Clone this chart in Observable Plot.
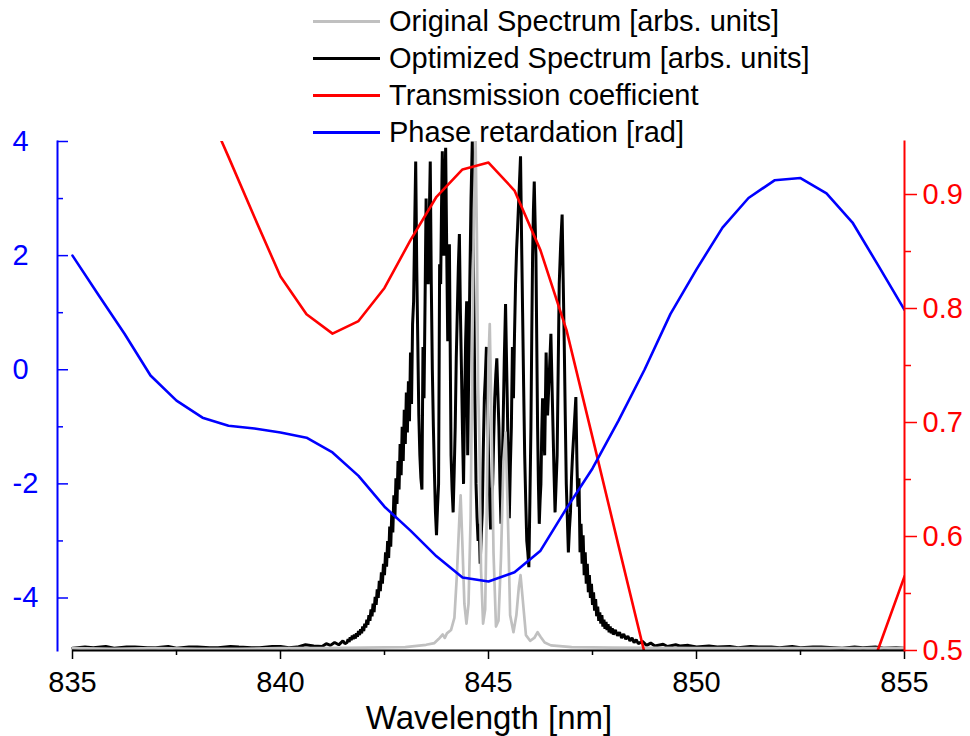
<!DOCTYPE html>
<html>
<head>
<meta charset="utf-8">
<script src="https://cdn.jsdelivr.net/npm/d3@7"></script>
<script src="https://cdn.jsdelivr.net/npm/@observablehq/plot@0.6"></script>
<style>
  html, body { margin: 0; padding: 0; background: #fff; }
  #wrap { position: relative; width: 970px; height: 736px; font-family: "Liberation Sans", Arial, sans-serif; }
  #legend { position: absolute; left: 313px; top: 3px; }
  .row { display: flex; align-items: center; height: 37px; font-size: 29px; color: #000; white-space: nowrap; }
  .sw { width: 67px; height: 3px; margin-right: 9px; }
</style>
</head>
<body>
<div id="wrap"><div id="legend"></div></div>
<script>
// ---------- data ----------
const seriesNames = ["Original Spectrum [arbs. units]", "Optimized Spectrum [arbs. units]", "Transmission coefficient", "Phase retardation [rad]"];
const seriesColors = ["#c0c0c0", "#000000", "#ff0000", "#0000ff"];

const xTicksMajor = [835, 840, 845, 850, 855];
const xTicksMinor = [837.5, 842.5, 847.5, 852.5];
const leftTicksMajor = [-4, -2, 0, 2, 4];
const leftTicksMinor = [-3, -1, 1, 3];
const rightTicksMajor = [0.5, 0.6, 0.7, 0.8, 0.9];
const rightTicksMinor = [0.55, 0.65, 0.75, 0.85];

// wavelength grid of the transmission / phase curves (nm)
const gridWavelength = [835, 835.625, 836.25, 836.875, 837.5, 838.125, 838.75, 839.375, 840, 840.625,
  841.25, 841.875, 842.5, 843.125, 843.75, 844.375, 845, 845.625, 846.25, 846.875,
  847.5, 848.125, 848.75, 849.375, 850, 850.625, 851.25, 851.875, 852.5, 853.125,
  853.75, 854.375, 855];
const phaseRetardation = [2.0, 1.31, 0.63, -0.1, -0.54, -0.84, -0.98, -1.03, -1.10, -1.19,
  -1.45, -1.86, -2.40, -2.82, -3.27, -3.64, -3.71, -3.55, -3.17, -2.43,
  -1.73, -0.89, 0.0, 0.98, 1.76, 2.49, 3.01, 3.32, 3.36, 3.09,
  2.58, 1.82, 1.05];
const transmission = [1.20, 1.14, 1.09, 1.05, 1.02, 0.985, 0.933, 0.880, 0.828, 0.795,
  0.778, 0.789, 0.818, 0.860, 0.898, 0.922, 0.928, 0.9035, 0.851, 0.781,
  0.687, 0.592, 0.498, 0.40, 0.33, 0.29, 0.27, 0.28, 0.31, 0.36,
  0.44, 0.502, 0.565];

// spectra: [wavelength nm, value in left-axis units]
const originalSpectrum = [
  [835, -4.88], [836, -4.89], [837, -4.88], [838, -4.89], [839, -4.89], [840, -4.88], [841, -4.88],
  [842, -4.87], [843, -4.86], [843.5, -4.82], [843.7, -4.79], [843.8, -4.72], [843.9, -4.64],
  [843.95, -4.7], [844.0, -4.62], [844.1, -4.56], [844.18, -4.35], [844.24, -3.6], [844.3, -2.6],
  [844.33, -2.2], [844.37, -3.0], [844.42, -4.1], [844.47, -4.45], [844.52, -4.1], [844.57, -2.6],
  [844.61, 0.2], [844.65, 2.8], [844.69, 4.0], [844.72, 2.4], [844.75, -0.3], [844.78, -1.2],
  [844.82, -3.5], [844.87, -4.45], [844.92, -4.2], [844.96, -2.4], [845.0, 0.2], [845.03, 0.8],
  [845.07, -0.8], [845.12, -3.2], [845.18, -4.5], [845.24, -4.4], [845.3, -3.3], [845.36, -1.6],
  [845.41, -1.1], [845.46, -2.4], [845.52, -4.3], [845.6, -4.6], [845.67, -4.3], [845.73, -3.8],
  [845.77, -3.6], [845.82, -4.0], [845.9, -4.65], [846.0, -4.75], [846.1, -4.7], [846.18, -4.6],
  [846.25, -4.68], [846.35, -4.78], [846.5, -4.83], [847, -4.86], [848, -4.87], [850, -4.88],
  [852, -4.88], [855, -4.88]
];
const optimizedSpectrum = [
  [835.0, -4.88], [835.3, -4.86], [835.5, -4.87], [835.8, -4.85], [836.0, -4.88], [836.3, -4.86],
  [836.5, -4.86], [836.8, -4.87], [837.0, -4.87], [837.3, -4.85], [837.5, -4.88], [837.8, -4.86],
  [838.0, -4.86], [838.3, -4.87], [838.5, -4.87], [838.8, -4.85], [839.0, -4.86], [839.3, -4.87],
  [839.5, -4.87], [839.8, -4.85], [840.0, -4.85], [840.2, -4.87], [840.4, -4.86], [840.6, -4.82],
  [840.8, -4.84], [841.0, -4.85], [841.1, -4.8], [841.2, -4.83], [841.3, -4.78], [841.4, -4.82],
  [841.5, -4.75], [841.55, -4.8],
  [841.600, -4.78], [841.625, -4.72], [841.650, -4.77], [841.675, -4.69], [841.700, -4.74], [841.725, -4.66],
  [841.750, -4.72], [841.775, -4.64], [841.800, -4.71], [841.825, -4.62], [841.850, -4.68], [841.875, -4.58],
  [841.900, -4.65], [841.925, -4.55], [841.950, -4.62], [841.975, -4.5], [842.000, -4.58], [842.025, -4.45],
  [842.050, -4.52], [842.075, -4.38], [842.100, -4.47], [842.125, -4.3], [842.150, -4.4], [842.175, -4.2],
  [842.200, -4.32], [842.225, -4.1], [842.250, -4.25], [842.275, -3.98], [842.300, -4.12], [842.325, -3.85],
  [842.350, -4.0], [842.375, -3.7], [842.400, -3.88], [842.425, -3.55], [842.450, -3.75], [842.475, -3.4],
  [842.500, -3.6], [842.525, -3.2], [842.550, -3.45], [842.575, -3.0], [842.600, -3.3], [842.625, -2.75],
  [842.650, -3.1], [842.675, -2.5], [842.700, -2.85], [842.725, -2.2], [842.750, -2.6], [842.775, -1.9],
  [842.800, -2.35], [842.825, -1.6], [842.850, -2.1], [842.875, -1.3], [842.900, -1.85], [842.925, -1.0],
  [842.950, -1.6], [842.975, -0.7], [843.000, -1.3], [843.025, -0.4], [843.050, -1.1], [843.075, -0.2],
  [843.100, -0.9], [843.125, 0.3], [843.150, -0.6], [843.175, 0.8], [843.200, 1.2], [843.225, 2.5],
  [843.25, 3.65], [843.275, 1.8], [843.3, 0.5], [843.325, -0.8], [843.35, -1.5], [843.375, -1.9],
  [843.4, -2.1], [843.425, 0.4], [843.45, -0.5], [843.475, 1.2], [843.5, 3.0], [843.525, 2.0],
  [843.55, 1.5], [843.575, 2.6], [843.6, 3.65], [843.625, 1.5], [843.65, 0.0], [843.675, -1.0],
  [843.7, -1.8], [843.725, -2.5], [843.75, -2.9], [843.775, -2.4], [843.8, -2.0], [843.825, 1.85],
  [843.85, 1.5], [843.87, 2.8], [843.89, 3.83], [843.91, 2.6], [843.93, 2.0], [843.95, 3.1],
  [843.97, 3.89], [844.0, 1.8], [844.02, 0.5], [844.06, 2.2], [844.1, -1.5], [844.125, -2.1],
  [844.15, -2.5], [844.175, -1.8], [844.2, -1.0], [844.225, 0.2], [844.25, 1.0], [844.275, 1.8],
  [844.3, 2.38], [844.325, 1.0], [844.35, 0.0], [844.375, -1.1], [844.4, -2.0], [844.425, -0.6],
  [844.45, 0.5], [844.475, 1.2], [844.5, -1.5], [844.525, 0.0], [844.55, 1.5], [844.58, 3.0],
  [844.61, 4.0], [844.63, 2.4], [844.65, 1.0], [844.675, -0.6], [844.7, -2.0], [844.725, -2.6],
  [844.75, -3.0], [844.775, -2.7], [844.8, -3.4], [844.825, -2.9], [844.85, -2.5], [844.875, -1.4],
  [844.9, -0.5], [844.925, -0.1], [844.95, 0.4], [844.975, -0.6], [845.0, -1.5], [845.025, -2.2],
  [845.05, -2.8], [845.075, -2.3], [845.1, -2.0], [845.125, -1.2], [845.15, -0.5], [845.175, -0.1],
  [845.2, 0.2], [845.225, -0.4], [845.25, -1.0], [845.275, -2.0], [845.3, -2.7], [845.325, -1.9],
  [845.35, -1.0], [845.38, 0.2], [845.41, 1.15], [845.43, 0.3], [845.45, -0.5], [845.475, -1.6],
  [845.5, -2.6], [845.525, -1.7], [845.55, -1.0], [845.575, 0.4], [845.6, -0.5], [845.625, 0.6],
  [845.65, 1.5], [845.675, 2.1], [845.7, 2.5], [845.74, 3.2], [845.77, 3.74], [845.795, 2.3],
  [845.82, 1.0], [845.845, -0.3], [845.87, -1.5], [845.895, -2.3], [845.92, -3.0], [845.945, -3.2],
  [845.97, -3.46], [845.995, -2.3], [846.02, -1.0], [846.04, 0.6], [846.06, 2.0], [846.08, 2.8],
  [846.1, 3.3], [846.12, 2.6], [846.14, 2.0], [846.16, 0.5], [846.18, -1.0], [846.2, -2.0],
  [846.22, -2.7], [846.24, -2.3], [846.26, -2.0], [846.28, -1.1], [846.3, -0.5], [846.325, -1.0],
  [846.35, -1.5], [846.385, 0.3], [846.42, -0.8], [846.46, -0.1], [846.5, 0.63], [846.525, -0.2],
  [846.55, -1.0], [846.575, -1.8], [846.6, -2.5], [846.625, -2.0], [846.65, -1.5], [846.675, 0.0],
  [846.7, 1.5], [846.735, 2.2], [846.77, 2.72], [846.795, 1.6], [846.82, 0.5], [846.845, -0.8],
  [846.87, -2.0], [846.895, -2.6], [846.92, -3.2], [846.945, -2.8], [846.97, -2.5], [846.995, -1.9],
  [847.02, -1.5], [847.06, -1.0], [847.100, -0.48], [847.125, -1.6], [847.150, -2.4], [847.175, -1.9],
  [847.200, -3.2], [847.225, -2.7], [847.250, -3.4], [847.275, -2.9], [847.300, -3.6], [847.325, -3.2],
  [847.350, -3.75], [847.375, -3.4], [847.400, -3.9], [847.425, -3.6], [847.450, -4.0], [847.475, -3.75],
  [847.500, -4.12], [847.525, -3.9], [847.550, -4.22], [847.575, -4.02], [847.600, -4.32], [847.625, -4.15],
  [847.650, -4.4], [847.675, -4.25], [847.700, -4.45], [847.725, -4.3], [847.750, -4.5], [847.775, -4.38],
  [847.800, -4.54], [847.825, -4.42], [847.850, -4.56], [847.875, -4.46], [847.900, -4.6], [847.925, -4.5],
  [847.950, -4.62], [847.975, -4.53], [848.000, -4.64], [848.050, -4.56], [848.100, -4.66], [848.150, -4.6],
  [848.200, -4.7], [848.250, -4.63], [848.300, -4.72], [848.350, -4.67], [848.400, -4.75], [848.450, -4.7],
  [848.500, -4.78], [848.550, -4.73], [848.600, -4.8], [848.700, -4.76], [848.800, -4.83], [848.900, -4.79],
  [849.0, -4.84], [849.2, -4.81], [849.3, -4.85], [849.5, -4.82], [849.6, -4.84], [849.8, -4.83],
  [850.0, -4.86], [850.3, -4.84], [850.5, -4.86], [850.8, -4.85], [851.0, -4.87], [851.3, -4.85],
  [851.5, -4.86], [851.8, -4.86], [852.0, -4.87], [852.3, -4.85], [852.5, -4.87], [852.8, -4.86],
  [853.0, -4.86], [853.3, -4.87], [853.5, -4.88], [853.8, -4.86], [854.0, -4.87], [854.3, -4.86],
  [854.5, -4.88], [854.8, -4.87], [855.0, -4.88]
];

const xDomain = [835, 855];
const leftDomain = [-4.92, 4];
const rightDomain = [0.5, 0.9465];

// ---------- chart ----------
const FONT = '"Liberation Sans", Arial, sans-serif';
const toLeft = d3.scaleLinear(rightDomain, leftDomain);
const blue = seriesColors[3], red = seriesColors[2];

const chart = Plot.plot({
  width: 970,
  height: 736,
  marginLeft: 57,
  marginRight: 66,
  marginTop: 141,
  marginBottom: 86,
  style: { fontFamily: FONT, fontSize: "29px", background: "white", overflow: "visible" },
  x: { domain: xDomain, insetLeft: 15, axis: null },
  y: { domain: leftDomain, axis: null },
  marks: [
    Plot.line(optimizedSpectrum, { x: d => d[0], y: d => d[1], stroke: seriesColors[1], strokeWidth: 3, strokeLinejoin: "miter", clip: true }),
    Plot.line(originalSpectrum, { x: d => d[0], y: d => d[1], stroke: seriesColors[0], strokeWidth: 2.7, clip: true }),
    Plot.line(transmission, { x: gridWavelength, y: transmission.map(toLeft), stroke: red, strokeWidth: 2.6, clip: true }),
    Plot.line(phaseRetardation, { x: gridWavelength, y: phaseRetardation, stroke: blue, strokeWidth: 2.6, clip: true }),
    // bottom axis
    Plot.ruleY([leftDomain[0]], { x1: xDomain[0], x2: xDomain[1], stroke: "black", strokeWidth: 2 }),
    Plot.axisX({ anchor: "bottom", ticks: xTicksMajor, tickSize: 9, tickPadding: 12, tickFormat: d3.format("d"), label: null, stroke: "black", fill: "black", strokeWidth: 1.5, fontSize: 29 }),
    Plot.axisX({ anchor: "bottom", ticks: xTicksMinor, tickSize: 5, tickFormat: () => "", label: null, stroke: "black", strokeWidth: 1.5 }),
    Plot.text(["Wavelength [nm]"], { frameAnchor: "bottom", dx: 8, dy: 78, fontSize: 33, fill: "black" }),
    // left axis (blue)
    Plot.frame({ anchor: "left", stroke: blue, strokeWidth: 2 }),
    Plot.axisY({ anchor: "left", ticks: leftTicksMajor, tickSize: -11, tickPadding: 56, textAnchor: "start", tickFormat: d => String(d), label: null, stroke: blue, fill: blue, strokeWidth: 1.5, fontSize: 29 }),
    Plot.axisY({ anchor: "left", ticks: leftTicksMinor, tickSize: -6, tickFormat: () => "", label: null, stroke: blue, strokeWidth: 1.5 }),
    // right axis (red)
    Plot.frame({ anchor: "right", stroke: red, strokeWidth: 2 }),
    Plot.axisY({ anchor: "right", ticks: rightTicksMajor.map(toLeft), tickSize: 12, tickPadding: 6, tickFormat: d => d3.format(".1f")(toLeft.invert(d)), label: null, stroke: red, fill: red, strokeWidth: 1.5, fontSize: 29 }),
    Plot.axisY({ anchor: "right", ticks: rightTicksMinor.map(toLeft), tickSize: 6, tickFormat: () => "", label: null, stroke: red, strokeWidth: 1.5 })
  ]
});
chart.style.position = "absolute";
chart.style.left = "0px";
chart.style.top = "0px";
const wrap = document.getElementById("wrap");
wrap.insertBefore(chart, wrap.firstChild);

// legend
const legend = document.getElementById("legend");
seriesNames.forEach((name, i) => {
  const row = document.createElement("div");
  row.className = "row";
  const sw = document.createElement("span");
  sw.className = "sw";
  sw.style.background = seriesColors[i];
  const tx = document.createElement("span");
  tx.textContent = name;
  row.appendChild(sw);
  row.appendChild(tx);
  legend.appendChild(row);
});
</script>
</body>
</html>
